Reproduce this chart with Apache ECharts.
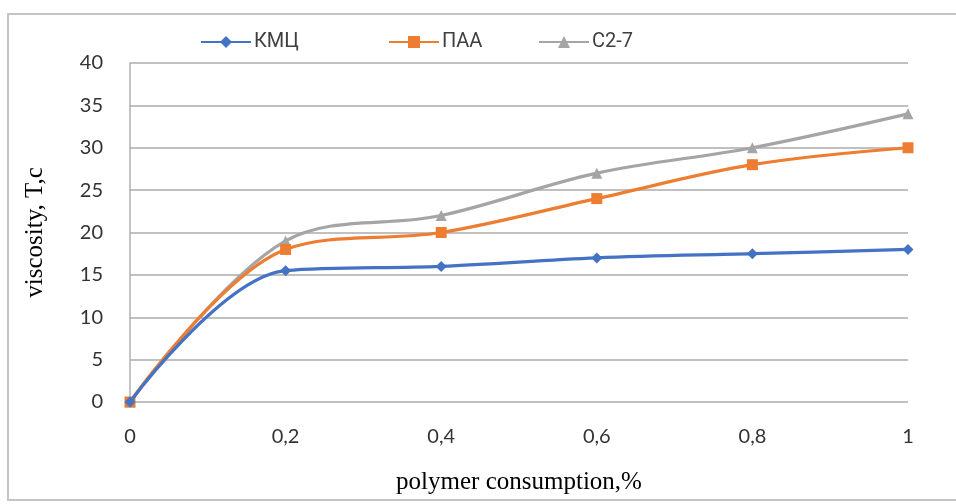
<!DOCTYPE html>
<html>
<head>
<meta charset="utf-8">
<script src="https://cdn.jsdelivr.net/npm/echarts@6/dist/echarts.min.js"></script>
<style>
  html, body { margin: 0; padding: 0; background: #fff; }
  #chart { width: 956px; height: 504px; }
</style>
</head>
<body>
<div id="chart"></div>
<script>
// Polymer consumption levels (%) and measured viscosity T, s
const categories = ['0', '0,2', '0,4', '0,6', '0,8', '1'];
const kmcValues = [0, 15.5, 16, 17, 17.5, 18];
const paaValues = [0, 18, 20, 24, 28, 30];
const c27Values = [0, 19, 22, 27, 30, 34];
const seriesNames = ['КМЦ', 'ПАА', 'С2-7'];
const yTicks = { min: 0, max: 40, interval: 5 };

const colors = ['#4472C4', '#ED7D31', '#A5A5A5'];
const symbols = ['diamond', 'rect', 'triangle'];
const symbolSizes = [11, 11, 11];
const legendLefts = [195, 383, 533];
const allValues = [kmcValues, paaValues, c27Values];

const chart = echarts.init(document.getElementById('chart'));

chart.setOption({
  animation: false,
  backgroundColor: '#fff',
  graphic: [
    {
      type: 'text',
      left: 2,
      top: -32,
      z: 0,
      style: {
        text: 'proves the viscosity, SSS and FL of prepared mud suspensions.',
        font: '29px "Liberation Serif"',
        fill: '#000'
      }
    },
    {
      type: 'rect',
      shape: { x: 8, y: 14, width: 960, height: 486 },
      z: -1,
      style: { fill: '#fff', stroke: '#c4c4c4', lineWidth: 2 }
    }
  ],
  // one legend block per series so each entry sits at its own spot
  legend: seriesNames.map((name, i) => ({
    top: 27,
    left: legendLefts[i],
    itemWidth: 50,
    itemHeight: 15,
    itemGap: 4,
    textStyle: { fontFamily: 'Roboto', fontSize: 20, color: '#404040', padding: [0, 0, 0, -2] },
    data: [name]
  })),
  grid: { left: 130, right: 48, top: 63, bottom: 102 },
  xAxis: {
    type: 'category',
    data: categories,
    boundaryGap: false,
    name: 'polymer consumption,%',
    nameLocation: 'middle',
    nameGap: 68,
    nameTextStyle: { fontFamily: 'Liberation Serif', fontSize: 25, color: '#000' },
    axisLine: { show: false },
    axisTick: { show: false },
    axisLabel: { margin: 25, fontFamily: 'Lato', fontSize: 20, color: '#333' },
    splitLine: { show: false }
  },
  yAxis: {
    type: 'value',
    min: yTicks.min,
    max: yTicks.max,
    interval: yTicks.interval,
    name: 'viscosity, T,c',
    nameLocation: 'middle',
    nameGap: 82,
    nameTextStyle: { fontFamily: 'Liberation Serif', fontSize: 25, color: '#000' },
    axisLine: { show: true, lineStyle: { color: '#b0b0b0', width: 1.5 } },
    axisTick: { show: false },
    axisLabel: { margin: 27, fontFamily: 'Lato', fontSize: 20, color: '#333' },
    splitLine: { show: true, lineStyle: { color: '#ababab', width: 1.5 } }
  },
  series: seriesNames.map((name, i) => ({
    name,
    type: 'line',
    data: allValues[i],
    smooth: 0.35,
    symbol: symbols[i],
    symbolSize: symbolSizes[i],
    showAllSymbol: true,
    z: 10 - i,
    itemStyle: { color: colors[i] },
    lineStyle: { color: colors[i], width: 3.2 }
  }))
});
</script>
</body>
</html>
